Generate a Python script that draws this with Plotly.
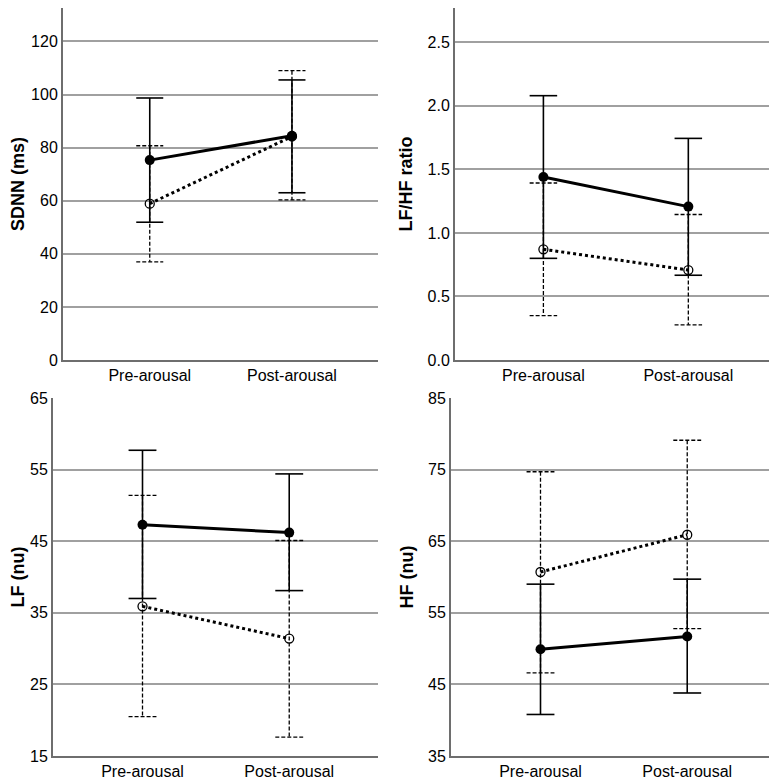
import plotly.graph_objects as go

categories = ["Pre-arousal", "Post-arousal"]

# Panel data: mean, lower, upper for solid (filled) and dashed (open) groups
sdnn_solid = [75.3, 84.5]
sdnn_solid_lo = [51.9, 63.0]
sdnn_solid_hi = [98.7, 105.5]
sdnn_open = [58.9, 84.2]
sdnn_open_lo = [37.0, 60.3]
sdnn_open_hi = [80.7, 109.0]

ratio_solid = [1.44, 1.207]
ratio_solid_lo = [0.80, 0.667]
ratio_solid_hi = [2.08, 1.744]
ratio_open = [0.871, 0.708]
ratio_open_lo = [0.349, 0.277]
ratio_open_hi = [1.393, 1.145]

lf_solid = [47.3, 46.2]
lf_solid_lo = [37.0, 38.1]
lf_solid_hi = [57.7, 54.4]
lf_open = [35.9, 31.4]
lf_open_lo = [20.5, 17.65]
lf_open_hi = [51.4, 45.1]

hf_solid = [49.9, 51.7]
hf_solid_lo = [40.8, 43.8]
hf_solid_hi = [59.0, 59.7]
hf_open = [60.7, 65.9]
hf_open_lo = [46.6, 52.8]
hf_open_hi = [74.7, 79.1]

# page offset compensation (browser body margin)
OFF = 8
W, H = 777 - OFF, 779 - OFF

def xdom(a, b):
    return [(a - OFF) / W, min(1.0, (b - OFF) / W)]

def ydom(top, bottom):
    return [1 - (bottom - OFF) / H, min(1.0, 1 - (top - OFF) / H)]

panels = [
    dict(title="SDNN (ms)", rng=[0, 132.6], dtick=20, fmt="", data=(sdnn_solid, sdnn_solid_lo, sdnn_solid_hi, sdnn_open, sdnn_open_lo, sdnn_open_hi),
         xd=xdom(63, 378), yd=ydom(2, 360)),
    dict(title="LF/HF ratio", rng=[0, 2.77], dtick=0.5, fmt=".1f", data=(ratio_solid, ratio_solid_lo, ratio_solid_hi, ratio_open, ratio_open_lo, ratio_open_hi),
         xd=xdom(455, 776), yd=ydom(2, 360)),
    dict(title="LF (nu)", rng=[15, 65], dtick=10, fmt="", data=(lf_solid, lf_solid_lo, lf_solid_hi, lf_open, lf_open_lo, lf_open_hi),
         xd=xdom(53, 378), yd=ydom(398, 756)),
    dict(title="HF (nu)", rng=[35, 85], dtick=10, fmt="", data=(hf_solid, hf_solid_lo, hf_solid_hi, hf_open, hf_open_lo, hf_open_hi),
         xd=xdom(451, 776), yd=ydom(398, 756)),
]

xs = [0, 1]
CAP = 0.095

def errbar_path(xv, lo, hi):
    px, py = [], []
    for x, l, h in zip(xv, lo, hi):
        px += [x - CAP, x + CAP, None, x, x, None, x - CAP, x + CAP, None]
        py += [h, h, None, h, l, None, l, l, None]
    return px, py

fig = go.Figure()
layout = {}
for i, p in enumerate(panels):
    n = "" if i == 0 else str(i + 1)
    xa, ya = "x" + n, "y" + n
    s, slo, shi, o, olo, ohi = p["data"]
    ex, ey = errbar_path(xs, olo, ohi)
    fig.add_trace(go.Scatter(x=ex, y=ey, mode="lines", line=dict(color="black", width=1.3, dash="4px,2px"),
                             xaxis=xa, yaxis=ya, showlegend=False, hoverinfo="skip"))
    ex, ey = errbar_path(xs, slo, shi)
    fig.add_trace(go.Scatter(x=ex, y=ey, mode="lines", line=dict(color="black", width=1.6),
                             xaxis=xa, yaxis=ya, showlegend=False, hoverinfo="skip"))
    fig.add_trace(go.Scatter(x=xs, y=o, mode="lines+markers", line=dict(color="black", width=3, dash="dot"),
                             marker=dict(symbol="circle-open", size=9, color="black", line=dict(width=1.3)),
                             xaxis=xa, yaxis=ya, showlegend=False))
    fig.add_trace(go.Scatter(x=xs, y=s, mode="lines+markers", line=dict(color="black", width=3),
                             marker=dict(symbol="circle", size=10, color="black"),
                             xaxis=xa, yaxis=ya, showlegend=False))
    layout["xaxis" + n] = dict(domain=p["xd"], anchor=ya, range=[-0.61, 1.605], tickvals=xs, ticktext=categories,
                               showgrid=False, zeroline=False, showline=True, linecolor="#6e6e6e", linewidth=2,
                               ticks="", automargin=False,
                               tickfont=dict(family="Liberation Sans, Arial", size=16, color="black"))
    layout["yaxis" + n] = dict(domain=p["yd"], anchor=xa, range=p["rng"], dtick=p["dtick"], tick0=0 if i < 2 else p["rng"][0],
                               tickformat=p["fmt"], showgrid=True, gridcolor="#a0a0a0", gridwidth=1.6, zeroline=False,
                               showline=True, linecolor="#6e6e6e", linewidth=2, ticks="", automargin=False,
                               tickfont=dict(family="Liberation Sans, Arial", size=16, color="black"),
                               title=dict(text="<b>" + p["title"] + "</b>", font=dict(family="Liberation Sans, Arial", size=18, color="black"), standoff=10))

fig.update_layout(width=W, height=H, margin=dict(l=0, r=0, t=0, b=0), plot_bgcolor="white", paper_bgcolor="white", **layout)
fig.write_html("out.html")
